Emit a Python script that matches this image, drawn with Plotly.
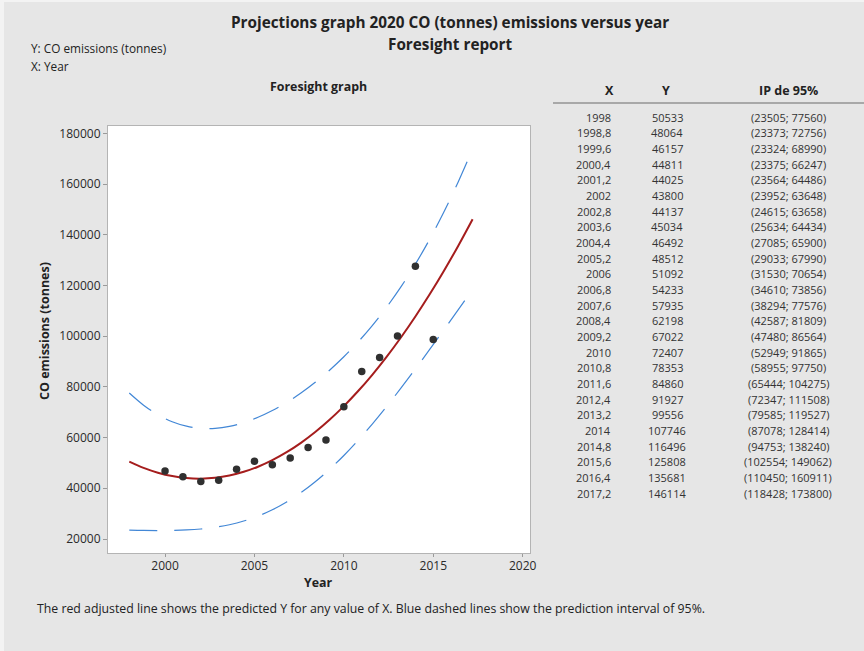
import plotly.graph_objects as go

# ---------------- data ----------------
obs_year = [2000, 2001, 2002, 2003, 2004, 2005, 2006, 2007, 2008, 2009,
            2010, 2011, 2012, 2013, 2014, 2015]
obs_co = [46800, 44600, 42650, 43200, 47550, 50700, 49250, 51900, 56100, 59000,
          72200, 86100, 91550, 100100, 127600, 98650]

fit_x = [1998, 1998.8, 1999.6, 2000.4, 2001.2, 2002, 2002.8, 2003.6, 2004.4, 2005.2,
         2006, 2006.8, 2007.6, 2008.4, 2009.2, 2010, 2010.8, 2011.6, 2012.4, 2013.2,
         2014, 2014.8, 2015.6, 2016.4, 2017.2]
fit_y = [50533, 48064, 46157, 44811, 44025, 43800, 44137, 45034, 46492, 48512,
         51092, 54233, 57935, 62198, 67022, 72407, 78353, 84860, 91927, 99556,
         107746, 116496, 125808, 135681, 146114]
pi_low = [23505, 23373, 23324, 23375, 23564, 23952, 24615, 25634, 27085, 29033,
          31530, 34610, 38294, 42587, 47480, 52949, 58955, 65444, 72347, 79585,
          87078, 94753, 102554, 110450, 118428]
pi_high = [77560, 72756, 68990, 66247, 64486, 63648, 63658, 64434, 65900, 67990,
           70654, 73856, 77576, 81809, 86564, 91865, 97750, 104275, 111508, 119527,
           128414, 138240, 149062, 160911, 173800]

x_ticks = [2000, 2005, 2010, 2015, 2020]
y_ticks = [20000, 40000, 60000, 80000, 100000, 120000, 140000, 160000, 180000]

# ---------------- layout helpers ----------------
W, H = 864, 651
FONT = "Open Sans"
TXT = "#222222"


def px(x):
    return x / W


def py(y):
    return 1 - y / H


def fmt_x(v):
    s = ("%.1f" % v).rstrip("0").rstrip(".")
    return s.replace(".", ",")


BLUE = "#4287d6"
RED = "#a51d1d"

fig = go.Figure()
fig.add_trace(go.Scatter(x=fit_x, y=pi_high, mode="lines", line=dict(color=BLUE, width=1.2, dash="28px,17px", shape="spline"), hoverinfo="skip"))
fig.add_trace(go.Scatter(x=fit_x, y=pi_low, mode="lines", line=dict(color=BLUE, width=1.2, dash="28px,17px", shape="spline"), hoverinfo="skip"))
fig.add_trace(go.Scatter(x=fit_x, y=fit_y, mode="lines", line=dict(color=RED, width=2, shape="spline")))
fig.add_trace(go.Scatter(x=obs_year, y=obs_co, mode="markers", marker=dict(color="#303030", size=7.5)))

ann = []


def text(x, y, s, size=11, bold=False, xanchor="center", color=TXT, angle=0):
    ann.append(dict(x=px(x), y=py(y), xref="paper", yref="paper", text=("<b>%s</b>" % s) if bold else s,
                    showarrow=False, xanchor=xanchor, yanchor="middle", textangle=angle,
                    font=dict(family=FONT, size=size, color=color)))


text(450, 22, "Projections graph 2020 CO (tonnes) emissions versus year", size=15.3, bold=True)
text(450, 44, "Foresight report", size=15.3, bold=True)
text(29, 48, "Y: CO emissions (tonnes)", size=11.8, xanchor="left")
text(29, 66, "X: Year", size=11.8, xanchor="left")
text(318, 87, "Foresight graph", size=12.4, bold=True)
text(318, 582, "Year", size=12.4, bold=True)
text(45, 331, "CO emissions (tonnes)", size=12.5, bold=True, angle=-90)
text(35, 608, "The red adjusted line shows the predicted Y for any value of X. Blue dashed lines show the prediction interval of 95%.", size=12.3, xanchor="left")

# table
text(609, 91, "X", size=12.5, bold=True)
text(666, 91, "Y", size=12.5, bold=True)
text(788, 91, "IP de 95%", size=12.5, bold=True)
row0, dy = 117, 15.67
for i in range(len(fit_x)):
    yy = row0 + i * dy
    text(613, yy, fmt_x(fit_x[i]), size=11, xanchor="right", color="#333333")
    text(667, yy, str(fit_y[i]), size=11, color="#333333")
    text(788, yy, "(%d; %d)" % (pi_low[i], pi_high[i]), size=11, color="#333333")

shapes = [dict(type="line", xref="paper", yref="paper", x0=px(553), x1=px(864), y0=py(103), y1=py(103),
               line=dict(color="#a8a8a8", width=2)),
          dict(type="rect", xref="paper", yref="paper", x0=0, x1=px(4), y0=0, y1=1,
               line=dict(width=0), fillcolor="#f3f3f3", layer="below"),
          dict(type="rect", xref="paper", yref="paper", x0=0, x1=1, y0=py(2), y1=1,
               line=dict(width=0), fillcolor="#f3f3f3", layer="below")]

fig.update_layout(
    template="none",
    width=W, height=H, margin=dict(l=0, r=0, t=0, b=0, pad=0, autoexpand=False),
    paper_bgcolor="#e6e6e6", plot_bgcolor="#ffffff", showlegend=False,
    annotations=ann, shapes=shapes,
    font=dict(family=FONT, color=TXT),
    xaxis=dict(domain=[px(108), px(530)], range=[1996.81, 2020.41], tickvals=x_ticks, automargin=False,
               showgrid=False, zeroline=False, showline=True, linecolor="#b4b4b4", linewidth=1.2, mirror=True,
               ticks="outside", ticklen=3, tickcolor="#9a9a9a", ticklabelstandoff=-2,
               tickfont=dict(family=FONT, size=12, color="#2a2a2a")),
    yaxis=dict(domain=[py(553), py(126)], range=[14480, 182880], tickvals=y_ticks, tickformat="d", automargin=False,
               showgrid=False, zeroline=False, showline=True, linecolor="#b4b4b4", linewidth=1.2, mirror=True,
               ticks="outside", ticklen=4, tickcolor="#9a9a9a",
               tickfont=dict(family=FONT, size=12, color="#2a2a2a")),
)

fig.write_html("out.html", config={"displayModeBar": False},
               post_script="document.documentElement.style.margin='0';document.body.style.margin='0';document.body.style.overflow='hidden';")
